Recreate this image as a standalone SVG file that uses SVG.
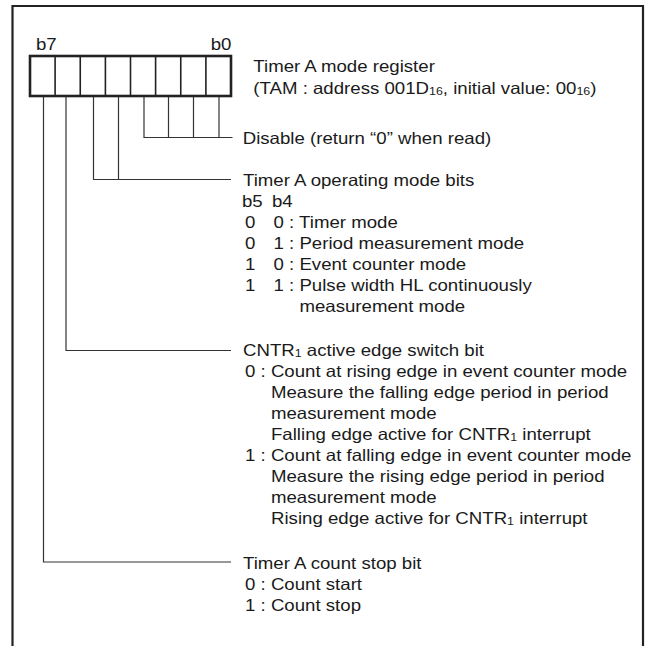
<svg xmlns="http://www.w3.org/2000/svg" width="647" height="646" viewBox="0 0 647 646">
<style>
.frame{fill:none;stroke:#222;stroke-width:2.2}
.reg{fill:#fff;stroke:#222;stroke-width:2.6}
.div{stroke:#222;stroke-width:1.6}
.lead{fill:none;stroke:#333;stroke-width:1.2}
text{font-family:"Liberation Sans",Arial,Helvetica,sans-serif;font-size:16.5px;fill:#1a1a1a}
.sub{font-size:11px}
</style>
<rect x="0" y="0" width="647" height="646" fill="#fff"/>
<path class="frame" d="M12.5,646 V6 H643 V646"/>
<g id="register">
<rect class="reg" x="30" y="56" width="201" height="40"/>
<path class="div" d="M55.1,56V96 M80.25,56V96 M105.4,56V96 M130.5,56V96 M155.6,56V96 M180.75,56V96 M205.9,56V96"/>
</g>
<g id="connectors">
<path class="lead" d="M144,97 V137.5 H232.5 M168.5,97 V137.5 M193.5,97 V137.5 M219,97 V137.5"/>
<path class="lead" d="M93.5,97 V179.5 H231 M118.5,97 V179.5"/>
<path class="lead" d="M66,97 V350.5 H231"/>
<path class="lead" d="M43.5,97 V562 H231"/>
</g>
<g transform="scale(1.13 1)">
<g id="bit-labels">
<text x="31.86" y="50.5">b7</text>
<text x="204.87" y="50.5" text-anchor="end">b0</text>
</g>
<g id="title">
<text x="224.16" y="72.5">Timer A mode register</text>
<text x="224.16" y="94">(TAM : address 001D<tspan class="sub" dy="1">16</tspan><tspan dy="-1">, initial value: 00</tspan><tspan class="sub" dy="1">16</tspan><tspan dy="-1">)</tspan></text>
</g>
<g id="disable">
<text x="214.78" y="144">Disable (return “0” when read)</text>
</g>
<g id="mode-bits">
<text x="215.04" y="186">Timer A operating mode bits</text>
<text x="214.16" y="207">b5</text><text x="240.71" y="207">b4</text>
<text x="216.81" y="228">0</text><text x="242.04" y="228">0 : Timer mode</text>
<text x="216.81" y="249">0</text><text x="242.04" y="249">1 : Period measurement mode</text>
<text x="216.81" y="270">1</text><text x="242.04" y="270">0 : Event counter mode</text>
<text x="216.81" y="291">1</text><text x="242.04" y="291">1 : Pulse width HL continuously</text>
<text x="264.96" y="312">measurement mode</text>
</g>
<g id="cntr-edge">
<text x="215.04" y="356.5">CNTR<tspan class="sub" dy="1">1</tspan><tspan dy="-1"> active edge switch bit</tspan></text>
<text x="216.81" y="377">0 : Count at rising edge in event counter mode</text>
<text x="239.82" y="398">Measure the falling edge period in period</text>
<text x="239.82" y="419">measurement mode</text>
<text x="239.82" y="440">Falling edge active for CNTR<tspan class="sub" dy="1">1</tspan><tspan dy="-1"> interrupt</tspan></text>
<text x="216.81" y="461">1 : Count at falling edge in event counter mode</text>
<text x="239.82" y="482">Measure the rising edge period in period</text>
<text x="239.82" y="503">measurement mode</text>
<text x="239.82" y="524">Rising edge active for CNTR<tspan class="sub" dy="1">1</tspan><tspan dy="-1"> interrupt</tspan></text>
</g>
<g id="count-stop">
<text x="215.04" y="569">Timer A count stop bit</text>
<text x="216.81" y="590">0 : Count start</text>
<text x="216.81" y="611">1 : Count stop</text>
</g>
</g>
</svg>
